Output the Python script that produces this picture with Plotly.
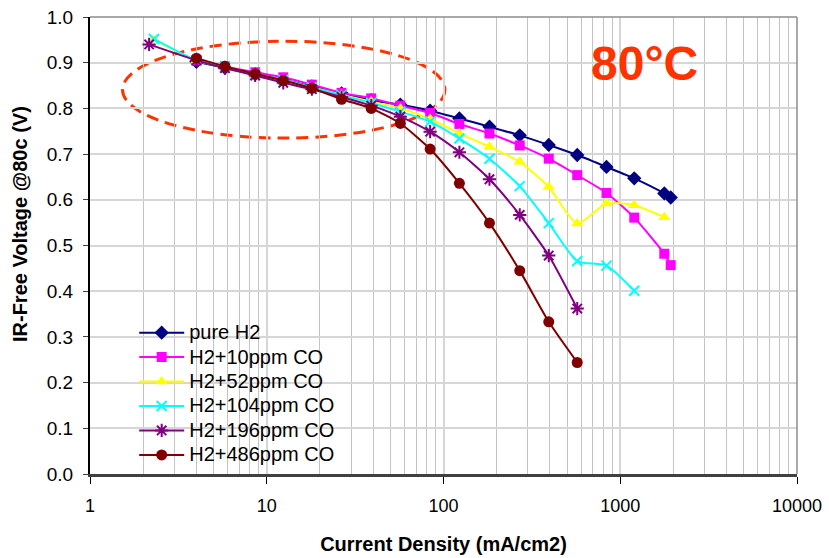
import plotly.graph_objects as go

# Polarisation curves at 80 °C: current density (mA/cm2) vs IR-free voltage (V)
j_pure = [4, 5.8, 8.6, 12.4, 18, 26.5, 39, 57, 84, 123, 182, 270, 394, 571, 836, 1200, 1775, 1930]
v_pure = [0.902, 0.889, 0.875, 0.863, 0.848, 0.833, 0.818, 0.808, 0.795, 0.778, 0.760, 0.741,
          0.720, 0.698, 0.672, 0.647, 0.614, 0.605]

j_co10 = [4, 5.8, 8.6, 12.4, 18, 26.5, 39, 57, 84, 123, 182, 270, 394, 571, 836, 1200, 1775, 1930]
v_co10 = [0.905, 0.892, 0.879, 0.868, 0.852, 0.834, 0.822, 0.806, 0.790, 0.766, 0.745, 0.719,
          0.690, 0.654, 0.615, 0.561, 0.482, 0.457]

j_co52 = [2.3, 4, 5.8, 8.6, 12.4, 18, 26.5, 39, 57, 84, 123, 182, 270, 394, 571, 836, 1200, 1775]
v_co52 = [0.950, 0.905, 0.890, 0.875, 0.862, 0.846, 0.830, 0.815, 0.800, 0.777, 0.745, 0.716,
          0.683, 0.628, 0.548, 0.592, 0.588, 0.562]

j_co104 = [2.3, 4, 5.8, 8.6, 12.4, 18, 26.5, 39, 57, 84, 123, 182, 270, 394, 571, 836, 1200]
v_co104 = [0.952, 0.905, 0.890, 0.875, 0.862, 0.846, 0.829, 0.812, 0.793, 0.771, 0.734, 0.690,
           0.630, 0.549, 0.466, 0.456, 0.401]

j_co196 = [2.16, 4, 5.8, 8.6, 12.4, 18, 26.5, 39, 57, 84, 123, 182, 270, 394, 571]
v_co196 = [0.940, 0.905, 0.888, 0.872, 0.856, 0.842, 0.825, 0.806, 0.782, 0.749, 0.704, 0.645,
           0.567, 0.478, 0.362]

j_co486 = [4, 5.8, 8.6, 12.4, 18, 26.5, 39, 57, 84, 123, 182, 270, 394, 571]
v_co486 = [0.910, 0.892, 0.876, 0.861, 0.844, 0.820, 0.800, 0.767, 0.711, 0.636, 0.549, 0.445,
           0.333, 0.244]

x_tick_vals = [1, 10, 100, 1000, 10000]
x_tick_text = ["1", "10", "100", "1000", "10000"]

FONT = "Liberation Sans, Arial, sans-serif"
ACCENT = "#FF3300"

series = [
    ("pure H2", j_pure, v_pure, "#000080", "diamond", 11),
    ("H2+10ppm CO", j_co10, v_co10, "#FF00FF", "square", 10),
    ("H2+52ppm CO", j_co52, v_co52, "#FFFF00", "triangle-up", 11),
    ("H2+104ppm CO", j_co104, v_co104, "#00FFFF", "x-thin", 10),
    ("H2+196ppm CO", j_co196, v_co196, "#800080", "asterisk", 11),
    ("H2+486ppm CO", j_co486, v_co486, "#800000", "circle", 11),
]

fig = go.Figure()
for name, xs, ys, color, symbol, size in series:
    fig.add_trace(go.Scatter(
        x=xs, y=ys, mode="lines+markers",
        # larger label text while the legend row pitch follows the legend font size
        name=f'<span style="font-size:20px">{name}</span>',
        line=dict(color=color, width=2, shape="spline", smoothing=0.6),
        marker=dict(symbol=symbol, size=size, color=color,
                    line=dict(color=color, width=2 if symbol in ("x-thin", "asterisk") else 0)),
    ))

fig.update_layout(
    width=829, height=558,
    margin=dict(l=90, r=32, t=17, b=84),
    paper_bgcolor="white", plot_bgcolor="white",
    font=dict(family=FONT, color="black", size=18),
    showlegend=True,
    legend=dict(x=0.0625, y=0.347, xanchor="left", yanchor="top",
                bgcolor="rgba(255,255,255,0)", borderwidth=0,
                font=dict(family=FONT, size=16.5, color="black"),
                tracegroupgap=0, itemwidth=45),
    xaxis=dict(
        type="log", range=[0, 4], automargin=False,
        tickmode="array", tickvals=x_tick_vals, ticktext=x_tick_text,
        ticks="outside", ticklen=7, tickcolor="black", tickwidth=1,
        ticklabelstandoff=7,
        showline=True, linecolor="#404040", linewidth=2.5,
        showgrid=True, gridcolor="#D6D6D6", gridwidth=2,
        minor=dict(dtick="D1", showgrid=True, gridcolor="#C4C4C4", gridwidth=1, ticks=""),
        zeroline=False,
        tickfont=dict(size=18),
        title=dict(text="<b>Current Density (mA/cm2)</b>", font=dict(size=20), standoff=22),
    ),
    yaxis=dict(
        range=[0, 1], dtick=0.1, tickformat=".1f", automargin=False,
        ticks="outside", ticklen=5, tickcolor="#404040", tickwidth=1,
        ticklabelstandoff=6,
        showline=True, linecolor="black", linewidth=2,
        showgrid=True, gridcolor="#D6D6D6", gridwidth=2,
        zeroline=False,
        tickfont=dict(size=19),
    ),
    shapes=[
        # white panel behind the legend
        dict(type="rect", xref="paper", yref="y", x0=0.009, x1=0.405, y0=0.0, y1=0.347,
             fillcolor="white", line=dict(width=0), layer="below"),
        # dashed ellipse highlighting the low-current region
        dict(type="circle", xref="paper", yref="y", x0=0.046, x1=0.502, y0=0.735, y1=0.947,
             line=dict(color=ACCENT, width=3, dash="12px,7px"), layer="below"),
        # grey frame on top and right
        dict(type="line", xref="paper", yref="paper", x0=0, x1=1, y0=1, y1=1,
             line=dict(color="#8C8C8C", width=1.5), layer="above"),
        dict(type="line", xref="paper", yref="paper", x0=1, x1=1, y0=0, y1=1,
             line=dict(color="#8C8C8C", width=1.5), layer="above"),
    ],
    annotations=[
        dict(text="<b>IR-Free Voltage @80c (V)</b>", xref="paper", yref="paper",
             x=-0.099, y=0.547, xanchor="center", yanchor="middle", textangle=-90,
             showarrow=False, font=dict(family=FONT, size=20, color="black")),
        dict(text="<b>80°C</b>", xref="paper", yref="paper", x=0.785, y=0.898,
             xanchor="center", yanchor="middle", showarrow=False,
             font=dict(family=FONT, size=48, color=ACCENT)),
    ],
)

fig.write_html("out.html")
